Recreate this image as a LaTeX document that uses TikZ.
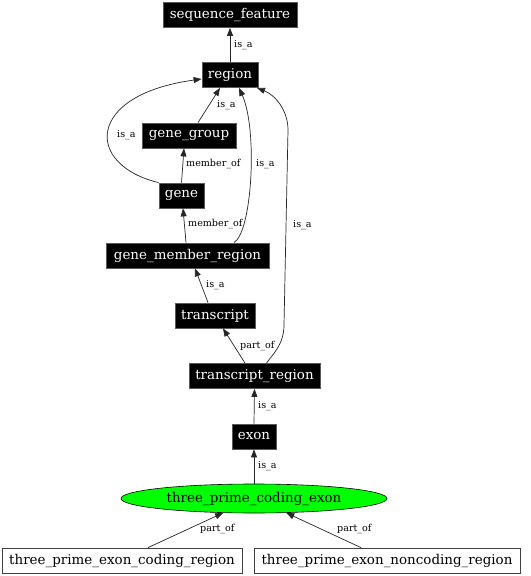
\documentclass[tikz,border=0pt]{standalone}
\usepackage{fontspec}
\setmainfont{DejaVu Serif}
\usetikzlibrary{arrows.meta,shapes.geometric}
\tikzset{
  blk/.style={rectangle, fill=black, draw=black!65, line width=0.8bp, text=white, inner sep=0pt, minimum height=25bp, font=\fontsize{13.5}{16}\selectfont},
  wht/.style={rectangle, fill=white, draw=black!75, line width=0.8bp, text=black, inner sep=0pt, minimum height=25bp, font=\fontsize{13.5}{16}\selectfont},
  grn/.style={ellipse, fill={rgb,255:red,0;green,255;blue,0}, draw=black, line width=0.6bp, inner sep=0pt, minimum width=266bp, minimum height=29bp, font=\fontsize{13.5}{16}\selectfont},
  lbl/.style={anchor=west, inner sep=0pt, font=\fontsize{9.6}{11}\selectfont},
  con/.style={draw=black!85, line width=0.7bp, -{Triangle[length=8bp,width=6bp]}}
}
\begin{document}
\begin{tikzpicture}[x=1bp,y=-1bp]
\useasboundingbox[fill=white] (0,0) rectangle (531,576);
\node[blk, minimum width=134bp] (sf) at (230,15) {sequence\_feature};
\node[blk, minimum width=56bp] (region) at (230,75) {region};
\node[blk, minimum width=94bp] (gg) at (189,135.5) {gene\_group};
\node[blk, minimum width=45bp] (gene) at (181.5,195.5) {gene};
\node[blk, minimum width=163bp] (gmr) at (187.5,255.5) {gene\_member\_region};
\node[blk, minimum width=80bp] (tx) at (215,315.5) {transcript};
\node[blk, minimum width=131bp] (tr) at (254.5,376) {transcript\_region};
\node[blk, minimum width=44bp] (exon) at (254,436.5) {exon};
\node[grn] (tpce) at (254,498.5) {three\_prime\_coding\_exon};
\node[wht, minimum width=240bp] (cod) at (122,560.5) {three\_prime\_exon\_coding\_region};
\node[wht, minimum width=266bp] (nonc) at (387,560.5) {three\_prime\_exon\_noncoding\_region};

\draw[con] (region.north) -- (sf.south);
\draw[con] ([xshift=9bp]gg.north) -- ([xshift=-10bp]region.south);
\draw[con] (gene.north west) .. controls (85,165) and (85,95) .. ([yshift=-4bp]region.west);
\draw[con] (gene.north) -- ([xshift=-5bp]gg.south);
\draw[con] ([xshift=-1.5bp]gmr.north) -- ([xshift=1.5bp]gene.south);
\draw[con] ([xshift=46.5bp]gmr.north) .. controls (252,232) and (258,130) .. ([xshift=9bp]region.south);
\draw[con] ([xshift=12bp]tr.north) .. controls (272,355) and (284,345) .. (284,325) -- (288,130) .. controls (288,110) and (275,95) .. ([xshift=27bp]region.south);
\draw[con] ([xshift=-7bp]tx.north) -- ([xshift=7.5bp]gmr.south);
\draw[con] ([xshift=-9.5bp]tr.north) -- ([xshift=8bp]tx.south);
\draw[con] (exon.north) -- (tr.south);
\draw[con] (tpce.north) -- (exon.south);
\draw[con] ([xshift=26bp]cod.north) -- (tpce.205);
\draw[con] ([xshift=-26bp]nonc.north) -- (tpce.336);

\node[lbl] (l1) at (234,45) {is\_a};
\node[lbl] (l2) at (217,105) {is\_a};
\node[lbl] (l3) at (117,135) {is\_a};
\node[lbl] (l4) at (186,164) {member\_of};
\node[lbl] (l5) at (188,224) {member\_of};
\node[lbl] (l6) at (256,164) {is\_a};
\node[lbl] (l7) at (293,225) {is\_a};
\node[lbl] (l8) at (206,285) {is\_a};
\node[lbl] (l9) at (240,346) {part\_of};
\node[lbl] (l10) at (258,406) {is\_a};
\node[lbl] (l11) at (258,466) {is\_a};
\node[lbl] (l12) at (200,529) {part\_of};
\node[lbl] (l13) at (337,529) {part\_of};
\end{tikzpicture}
\end{document}
